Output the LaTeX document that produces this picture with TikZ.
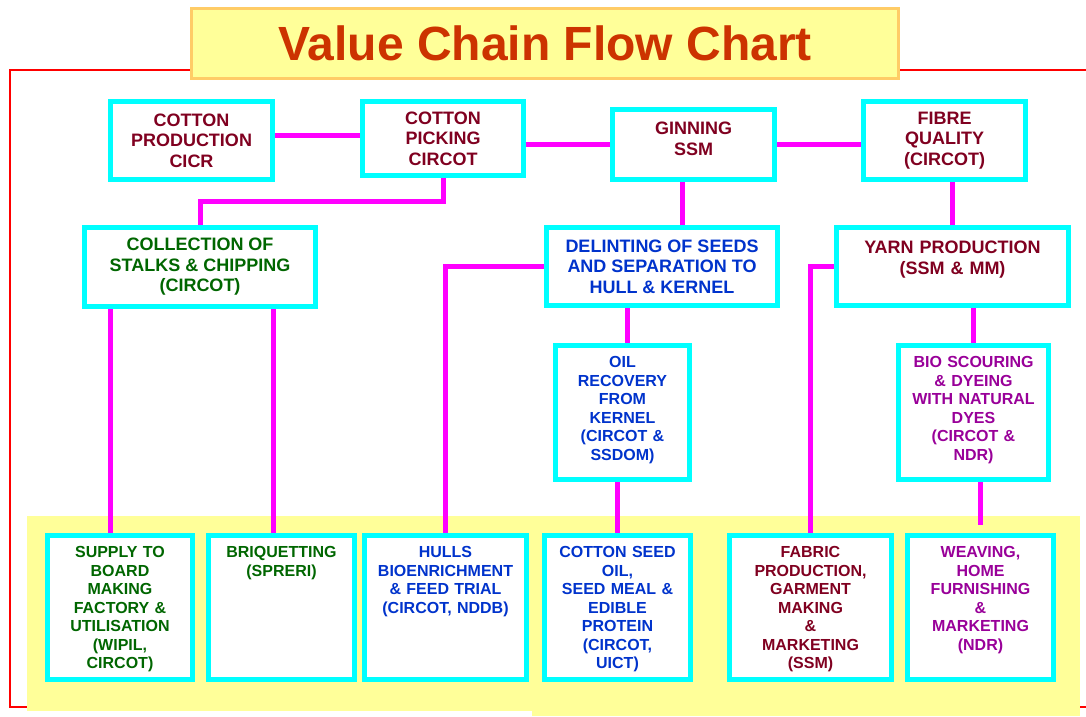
\documentclass[tikz,border=0pt]{standalone}
\usepackage{fontspec}
\setmainfont{Liberation Sans}
\definecolor{boxcyan}{HTML}{00FFFF}
\definecolor{linkpink}{HTML}{FF00FF}
\definecolor{paleyellow}{HTML}{FFFF99}
\definecolor{titleedge}{HTML}{FFCC66}
\definecolor{titlered}{HTML}{CC3300}
\definecolor{wine}{HTML}{800020}
\definecolor{leaf}{HTML}{006600}
\definecolor{royal}{HTML}{0033CC}
\definecolor{plum}{HTML}{990099}

\begin{document}
\begin{tikzpicture}[x=1pt,y=-1pt,
    box/.style={draw=boxcyan,line width=5pt,fill=white,inner sep=0pt,align=center,font=\bfseries\fontsize{18}{20.5}\selectfont},
    lowbox/.style={box,text width=#1,font=\bfseries\fontsize{16}{18.5}\selectfont,text height=22pt,text depth=122pt},
    midbox/.style={lowbox=#1,text depth=112pt},
    link/.style={draw=linkpink,line width=5pt}]
    \useasboundingbox (0,0) rectangle (1086,716);
    \draw[red,line width=1.5pt] (1086,70) -- (10,70) -- (10,707) -- (1086,707);
    \fill[paleyellow] (27,516) rectangle (1080,711);
    \fill[paleyellow] (532,711) rectangle (1080,716);
    \node[draw=titleedge,line width=3pt,fill=paleyellow,minimum width=707pt,minimum height=70pt,text=titlered,font=\bfseries\fontsize{48}{58}\selectfont] (title) at (545,43.5) {Value Chain Flow Chart};

    \node[box,text=wine,minimum width=162pt,minimum height=78pt] (cp) at (191.5,140.5) {COTTON\\PRODUCTION\\CICR};
    \node[box,text=wine,minimum width=161pt,minimum height=74pt] (pick) at (443,138.5) {COTTON\\PICKING\\CIRCOT};
    \node[box,text=wine,text width=162pt,text height=25pt,text depth=45pt] (gin) at (693.5,144.5) {GINNING\\SSM};
    \node[box,text=wine,minimum width=162pt,minimum height=78pt] (fib) at (944.5,140.5) {FIBRE\\QUALITY\\(CIRCOT)};
    \node[box,text=leaf,minimum width=231pt,minimum height=79pt] (coll) at (200,267) {COLLECTION OF\\STALKS \& CHIPPING\\(CIRCOT)};
    \node[box,text=royal,minimum width=231pt,minimum height=78pt] (delint) at (662,266.5) {DELINTING OF SEEDS\\AND SEPARATION TO\\HULL \& KERNEL};
    \node[box,text=wine,text width=232pt,text height=26pt,text depth=52pt] (yarn) at (952.5,266.5) {YARN PRODUCTION\\(SSM \& MM)};
    \node[midbox=134pt,text=royal] (oil) at (622.5,412.5) {OIL\\RECOVERY\\FROM\\KERNEL\\(CIRCOT \&\\SSDOM)};
    \node[midbox=150pt,text=plum] (bio) at (973.5,412.5) {BIO SCOURING\\\& DYEING\\WITH NATURAL\\DYES\\(CIRCOT \&\\NDR)};

    \node[lowbox=145pt,text=leaf] (supply) at (120,607.5) {SUPPLY TO\\BOARD\\MAKING\\FACTORY \&\\UTILISATION\\(WIPIL,\\CIRCOT)};
    \node[lowbox=146pt,text=leaf] (briq) at (281.5,607.5) {BRIQUETTING\\(SPRERI)};
    \node[lowbox=162pt,text=royal] (hulls) at (445.5,607.5) {HULLS\\BIOENRICHMENT\\\& FEED TRIAL\\(CIRCOT, NDDB)};
    \node[lowbox=146pt,text=royal] (seed) at (617.5,607.5) {COTTON SEED\\OIL,\\SEED MEAL \&\\EDIBLE\\PROTEIN\\(CIRCOT,\\UICT)};
    \node[lowbox=162pt,text=wine] (fabric) at (810.5,607.5) {FABRIC\\PRODUCTION,\\GARMENT\\MAKING\\\&\\MARKETING\\(SSM)};
    \node[lowbox=146pt,text=plum] (weave) at (980.5,607.5) {WEAVING,\\HOME\\FURNISHING\\\&\\MARKETING\\(NDR)};

    \draw[link] (cp.east |- 0,135) -- (pick.west |- 0,135);
    \draw[link] (pick.east |- gin.west) -- (gin.west);
    \draw[link] (gin.east) -- (fib.west |- gin.east);
    \draw[link] (pick.south) -- (pick.south |- 0,201) -| (coll.north);
    \draw[link] (gin.south -| 682,0) -- (delint.north -| 682,0);
    \draw[link] (fib.south -| yarn.north) -- (yarn.north);
    \draw[link] (delint.west) -| (hulls.north);
    \draw[link] (delint.south -| 627,0) -- (oil.north -| 627,0);
    \draw[link] (oil.south -| seed.north) -- (seed.north);
    \draw[link] (yarn.west) -| (fabric.north);
    \draw[link] (yarn.south -| bio.north) -- (bio.north);
    \draw[link,shorten >=8pt] (bio.south -| weave.north) -- (weave.north);
    \draw[link] (coll.south -| 110,0) -- (supply.north -| 110,0);
    \draw[link] (coll.south -| 273,0) -- (briq.north -| 273,0);
\end{tikzpicture}
\end{document}
